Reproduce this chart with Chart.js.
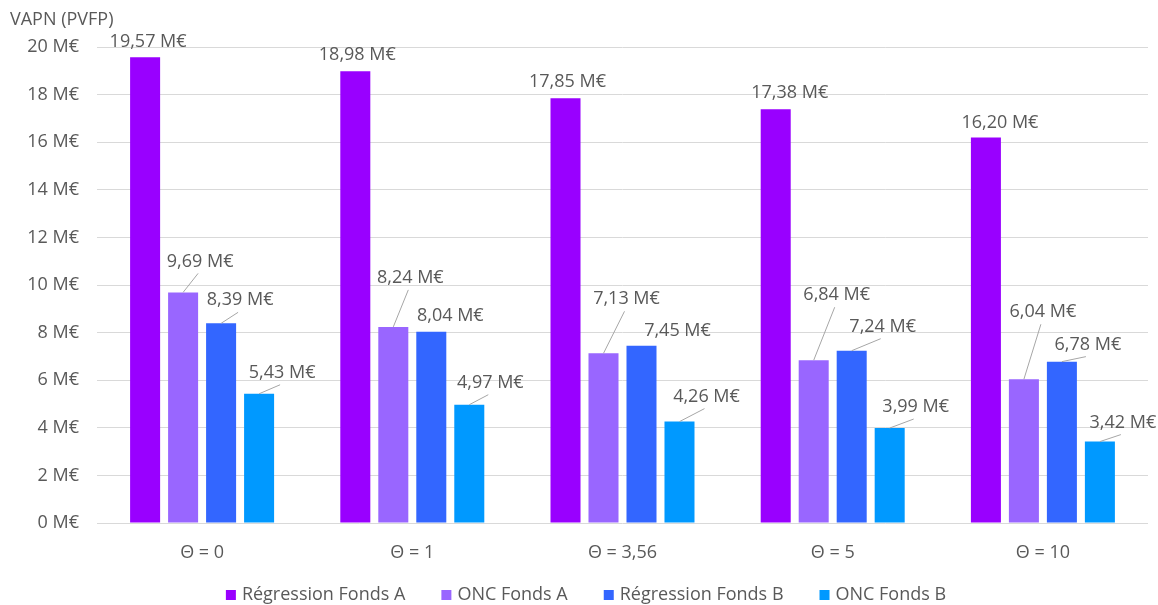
<!DOCTYPE html>
<html lang="fr">
<head>
<meta charset="utf-8">
<title>VAPN (PVFP)</title>
<script src="https://cdn.jsdelivr.net/npm/chart.js@4/dist/chart.umd.min.js"></script>
<style>
  html, body { margin: 0; padding: 0; background: #ffffff; }
  #wrap { width: 1158px; height: 605px; position: relative; }
</style>
</head>
<body>
<div id="wrap"><canvas id="chart"></canvas></div>
<script>
// Scénarios de Θ (axe des abscisses)
const categories = ['Θ = 0', 'Θ = 1', 'Θ = 3,56', 'Θ = 5', 'Θ = 10'];

// VAPN en millions d'euros par méthode et par fonds
const regressionFondsA = [19.57, 18.98, 17.85, 17.38, 16.20];
const oncFondsA        = [9.69, 8.24, 7.13, 6.84, 6.04];
const regressionFondsB = [8.39, 8.04, 7.45, 7.24, 6.78];
const oncFondsB        = [5.43, 4.97, 4.26, 3.99, 3.42];

const seriesNames = ['Régression Fonds A', 'ONC Fonds A', 'Régression Fonds B', 'ONC Fonds B'];
const seriesColors = ['#9900FF', '#9966FF', '#3366FF', '#0099FF'];

const yTickStep = 2;
const yMax = 20;

const TEXT_COLOR = '#595959';
const FONT_FAMILY = "'Open Sans', 'Noto Sans', sans-serif";
Chart.defaults.font.family = FONT_FAMILY;
Chart.defaults.font.size = 18;
Chart.defaults.color = TEXT_COLOR;

const fmt = v => v.toFixed(2).replace('.', ',') + ' M€';

// Étiquettes de valeur déplacées à la main, avec lignes de repère
const valueLabels = {
  id: 'valueLabels',
  afterDatasetsDraw(chart, args, opts) {
    const ctx = chart.ctx;
    ctx.save();
    ctx.font = `18px ${FONT_FAMILY}`;
    ctx.fillStyle = TEXT_COLOR;
    ctx.textAlign = 'center';
    ctx.textBaseline = 'middle';
    chart.data.datasets.forEach((ds, i) => {
      const meta = chart.getDatasetMeta(i);
      meta.data.forEach((bar, j) => {
        const [dx, dy] = opts.offsets[i][j];
        const lx = bar.x + dx, ly = bar.y + dy;
        if (opts.leaders[i][j]) {
          ctx.beginPath();
          ctx.strokeStyle = '#a6a6a6';
          ctx.lineWidth = 1;
          ctx.moveTo(bar.x, bar.y);
          ctx.lineTo(lx - 2, ly + 12);
          ctx.stroke();
        }
        ctx.fillText(fmt(ds.data[j]), lx, ly);
      });
    });
    ctx.restore();
  }
};

// Légende en bas du graphique
const bottomLegend = {
  id: 'bottomLegend',
  afterDraw(chart, args, opts) {
    const ctx = chart.ctx;
    ctx.save();
    ctx.font = `18px ${FONT_FAMILY}`;
    ctx.textBaseline = 'middle';
    ctx.textAlign = 'left';
    const box = 10, gapText = 6, gapItem = 36;
    const items = chart.data.datasets.map(ds => ({
      text: ds.label, color: ds.backgroundColor,
      w: box + gapText + ctx.measureText(ds.label).width
    }));
    const total = items.reduce((s, it) => s + it.w, 0) + gapItem * (items.length - 1);
    let x = chart.width / 2 + opts.shift - total / 2;
    const y = opts.y;
    items.forEach(it => {
      ctx.fillStyle = it.color;
      ctx.fillRect(x, y - box / 2, box, box);
      ctx.fillStyle = TEXT_COLOR;
      ctx.fillText(it.text, x + box + gapText, y);
      x += it.w + gapItem;
    });
    ctx.restore();
  }
};

const seriesValues = [regressionFondsA, oncFondsA, regressionFondsB, oncFondsB];

new Chart(document.getElementById('chart'), {
  type: 'bar',
  data: {
    labels: categories,
    datasets: seriesValues.map((vals, i) => ({
      label: seriesNames[i],
      data: vals,
      backgroundColor: seriesColors[i],
      borderWidth: 0,
      categoryPercentage: 0.723,
      barPercentage: 0.79
    }))
  },
  options: {
    responsive: true,
    maintainAspectRatio: false,
    animation: false,
    layout: { padding: { top: 0, left: 10, right: 10, bottom: 32 } },
    plugins: {
      legend: { display: false },
      tooltip: { enabled: false },
      title: {
        display: true,
        text: 'VAPN (PVFP)',
        align: 'start',
        color: TEXT_COLOR,
        font: { size: 18, weight: 'normal' },
        padding: { top: 9, bottom: 16.4 }
      },
      valueLabels: {
        offsets: [
          [[3, -15], [2, -16], [2, -16], [14, -16], [14, -15]],
          [[17, -31], [17, -49], [23, -54], [23, -65], [19, -67]],
          [[19, -23], [19, -16], [36, -15], [31, -24], [26, -17]],
          [[23, -21], [21, -22], [27, -25], [26, -21], [23, -19]]
        ],
        leaders: [
          [0, 0, 0, 0, 0],
          [1, 1, 1, 1, 1],
          [1, 0, 0, 1, 1],
          [1, 1, 1, 1, 1]
        ]
      },
      bottomLegend: { y: 595, shift: 7 }
    },
    scales: {
      x: {
        grid: { display: false },
        border: { display: false },
        ticks: { color: TEXT_COLOR, padding: 11, font: { size: 18 } },
        afterFit(s) { s.height = 50; }
      },
      y: {
        min: 0,
        max: yMax,
        grid: { color: '#d9d9d9', lineWidth: 1, drawTicks: false },
        border: { display: false },
        ticks: {
          stepSize: yTickStep,
          padding: 18,
          color: TEXT_COLOR,
          font: { size: 18 },
          callback: v => v + ' M€'
        },
        afterFit(s) { s.width = 87; }
      }
    }
  },
  plugins: [valueLabels, bottomLegend]
});
</script>
</body>
</html>
